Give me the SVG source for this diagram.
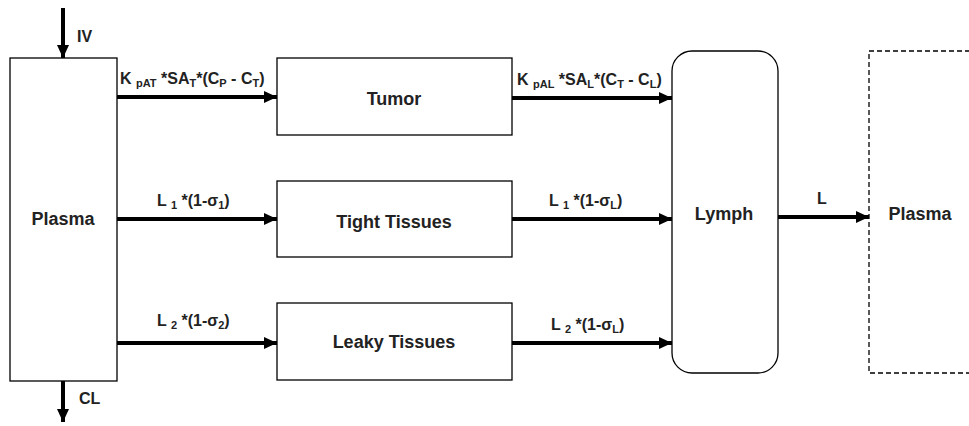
<svg xmlns="http://www.w3.org/2000/svg" width="969" height="426" viewBox="0 0 969 426">
<style>
.box{fill:#fff;stroke:#000;stroke-width:1.3}
.dash{fill:none;stroke:#000;stroke-width:1.3;stroke-dasharray:5,3}
.arr{stroke:#000;stroke-width:4;fill:none;marker-end:url(#ah)}
text{font-family:"Liberation Sans",Arial,sans-serif;font-weight:bold;font-size:16px;fill:#222}
.n{font-size:18px;text-anchor:middle}
.s{font-size:11px}
</style>
<defs>
<marker id="ah" markerUnits="userSpaceOnUse" markerWidth="14" markerHeight="14" refX="13" refY="7" orient="auto">
<path d="M0,1 L13,7 L0,13 Z" fill="#000"/>
</marker>
</defs>
<rect width="969" height="426" fill="#fff"/>
<g id="plasma"><rect class="box" x="10" y="58" width="107" height="323"/><text class="n" x="63" y="225">Plasma</text></g>
<g id="tumor"><rect class="box" x="277" y="58" width="235" height="77"/><text class="n" x="394" y="105">Tumor</text></g>
<g id="tight"><rect class="box" x="277" y="181" width="235" height="76"/><text class="n" x="394" y="228">Tight Tissues</text></g>
<g id="leaky"><rect class="box" x="277" y="303" width="235" height="77"/><text class="n" x="394" y="348">Leaky Tissues</text></g>
<g id="lymph"><rect class="box" x="672" y="51" width="106" height="322" rx="20" ry="20"/><text class="n" x="724" y="220">Lymph</text></g>
<g id="plasma2"><rect class="dash" x="869" y="51" width="110" height="322"/><text class="n" x="920" y="220">Plasma</text></g>
<g id="connectors">
<line class="arr" x1="63" y1="8" x2="63" y2="58"/>
<line class="arr" x1="63" y1="381" x2="63" y2="422"/>
<line class="arr" x1="117" y1="97" x2="277" y2="97"/>
<line class="arr" x1="512" y1="98" x2="672" y2="98"/>
<line class="arr" x1="117" y1="219" x2="277" y2="219"/>
<line class="arr" x1="512" y1="219" x2="672" y2="219"/>
<line class="arr" x1="117" y1="343" x2="277" y2="343"/>
<line class="arr" x1="512" y1="343" x2="672" y2="343"/>
<line class="arr" x1="778" y1="217" x2="869" y2="217"/>
<text x="77" y="42">IV</text>
<text x="79" y="404">CL</text>
<text x="120" y="84">K <tspan class="s" dy="3">pAT</tspan><tspan dy="-3"> *SA</tspan><tspan class="s" dy="3">T</tspan><tspan dy="-3">*(C</tspan><tspan class="s" dy="3">P</tspan><tspan dy="-3"> - C</tspan><tspan class="s" dy="3">T</tspan><tspan dy="-3">)</tspan></text>
<text x="517" y="85">K <tspan class="s" dy="3">pAL</tspan><tspan dy="-3"> *SA</tspan><tspan class="s" dy="3">L</tspan><tspan dy="-3">*(C</tspan><tspan class="s" dy="3">T</tspan><tspan dy="-3"> - C</tspan><tspan class="s" dy="3">L</tspan><tspan dy="-3">)</tspan></text>
<text x="157" y="206">L <tspan class="s" dy="3">1</tspan><tspan dy="-3"> *(1-σ</tspan><tspan class="s" dy="3">1</tspan><tspan dy="-3">)</tspan></text>
<text x="549" y="206">L <tspan class="s" dy="3">1</tspan><tspan dy="-3"> *(1-σ</tspan><tspan class="s" dy="3">L</tspan><tspan dy="-3">)</tspan></text>
<text x="157" y="326">L <tspan class="s" dy="3">2</tspan><tspan dy="-3"> *(1-σ</tspan><tspan class="s" dy="3">2</tspan><tspan dy="-3">)</tspan></text>
<text x="551" y="330">L <tspan class="s" dy="3">2</tspan><tspan dy="-3"> *(1-σ</tspan><tspan class="s" dy="3">L</tspan><tspan dy="-3">)</tspan></text>
<text x="817" y="204">L</text>
</g>
</svg>
